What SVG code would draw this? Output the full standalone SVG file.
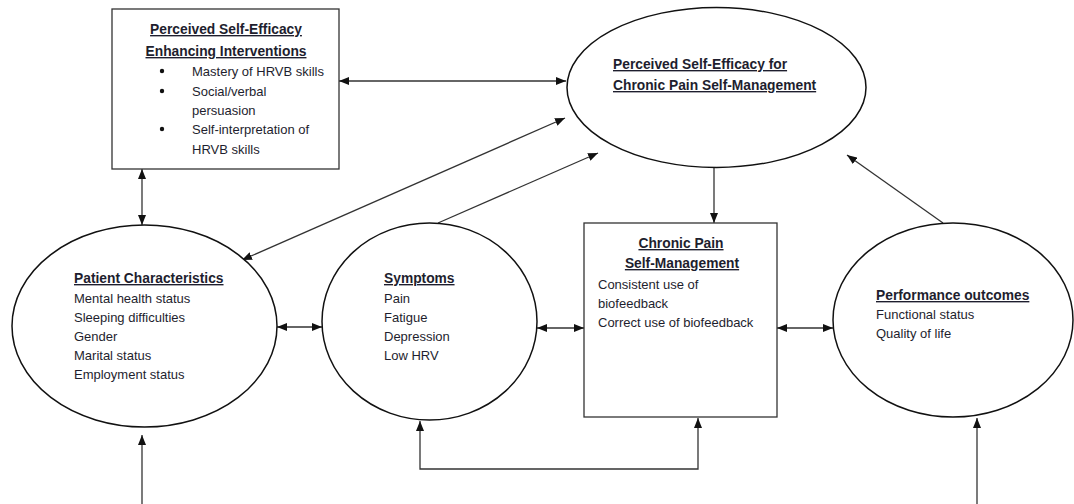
<svg xmlns="http://www.w3.org/2000/svg" width="1074" height="504" viewBox="0 0 1074 504">
<style>
.shape{fill:#fff;stroke:#111;stroke-width:1.5}
.box{fill:#fff;stroke:#333;stroke-width:1.3}
.con{fill:none;stroke:#333;stroke-width:1.3}
.t{font-family:"Liberation Sans",Arial,sans-serif;font-size:13px;fill:#1e1e2e}
.h{font-family:"Liberation Sans",Arial,sans-serif;font-size:13.8px;font-weight:bold;fill:#1e1e2e;text-decoration:underline}
</style>
<defs>
<marker id="ah" viewBox="0 0 10 8" refX="10" refY="4" markerWidth="10" markerHeight="8" markerUnits="userSpaceOnUse" orient="auto-start-reverse">
<path d="M0,0 L10,4 L0,8 z" fill="#111"/>
</marker>
</defs>
<g id="connectors">
<line class="con" x1="339" y1="81" x2="566" y2="81" marker-start="url(#ah)" marker-end="url(#ah)"/>
<line class="con" x1="142" y1="169" x2="142" y2="225" marker-start="url(#ah)" marker-end="url(#ah)"/>
<line class="con" x1="142" y1="504" x2="142" y2="435" marker-end="url(#ah)"/>
<line class="con" x1="565" y1="118" x2="242" y2="260" marker-start="url(#ah)" marker-end="url(#ah)"/>
<line class="con" x1="438" y1="223" x2="598" y2="153" marker-end="url(#ah)"/>
<line class="con" x1="277" y1="327" x2="322" y2="327" marker-start="url(#ah)" marker-end="url(#ah)"/>
<line class="con" x1="537" y1="328" x2="584" y2="328" marker-start="url(#ah)" marker-end="url(#ah)"/>
<line class="con" x1="714" y1="167" x2="714" y2="223" marker-end="url(#ah)"/>
<line class="con" x1="777" y1="328" x2="833" y2="328" marker-start="url(#ah)" marker-end="url(#ah)"/>
<line class="con" x1="943" y1="223" x2="847" y2="155" marker-end="url(#ah)"/>
<line class="con" x1="977" y1="504" x2="977" y2="418" marker-end="url(#ah)"/>
<polyline class="con" points="420,421 420,469 698,469 698,418" marker-start="url(#ah)" marker-end="url(#ah)"/>
</g>
<g id="interventions">
<rect class="box" x="112" y="9" width="227" height="160"/>
<text class="h" x="226" y="34" text-anchor="middle">Perceived Self-Efficacy</text>
<text class="h" x="226" y="56" text-anchor="middle">Enhancing Interventions</text>
<circle cx="162" cy="71" r="2.2" fill="#111"/>
<circle cx="162" cy="91" r="2.2" fill="#111"/>
<circle cx="162" cy="129" r="2.2" fill="#111"/>
<text class="t" x="192" y="76">Mastery of HRVB skills</text>
<text class="t" x="192" y="96">Social/verbal</text>
<text class="t" x="192" y="115">persuasion</text>
<text class="t" x="192" y="134">Self-interpretation of</text>
<text class="t" x="192" y="154">HRVB skills</text>
</g>
<g id="self-efficacy">
<ellipse class="shape" cx="716.5" cy="87.5" rx="149.5" ry="80"/>
<text class="h" x="613" y="69">Perceived Self-Efficacy for</text>
<text class="h" x="613" y="90">Chronic Pain Self-Management</text>
</g>
<g id="patient">
<ellipse class="shape" cx="144.5" cy="326" rx="132.5" ry="101"/>
<text class="h" x="74" y="283">Patient Characteristics</text>
<text class="t" x="74" y="303">Mental health status</text>
<text class="t" x="74" y="322">Sleeping difficulties</text>
<text class="t" x="74" y="341">Gender</text>
<text class="t" x="74" y="360">Marital status</text>
<text class="t" x="74" y="379">Employment status</text>
</g>
<g id="symptoms">
<ellipse class="shape" cx="429.5" cy="321.5" rx="107.5" ry="98.5"/>
<text class="h" x="384" y="283">Symptoms</text>
<text class="t" x="384" y="303">Pain</text>
<text class="t" x="384" y="322">Fatigue</text>
<text class="t" x="384" y="341">Depression</text>
<text class="t" x="384" y="360">Low HRV</text>
</g>
<g id="self-management">
<rect class="box" x="584" y="223" width="193" height="194"/>
<text class="h" x="681" y="248" text-anchor="middle">Chronic Pain</text>
<text class="h" x="682" y="268" text-anchor="middle">Self-Management</text>
<text class="t" x="598" y="289">Consistent use of</text>
<text class="t" x="598" y="308">biofeedback</text>
<text class="t" x="598" y="327">Correct use of biofeedback</text>
</g>
<g id="performance">
<ellipse class="shape" cx="953" cy="320" rx="120" ry="97"/>
<text class="h" x="876" y="300">Performance outcomes</text>
<text class="t" x="876" y="319">Functional status</text>
<text class="t" x="876" y="338">Quality of life</text>
</g>
</svg>
